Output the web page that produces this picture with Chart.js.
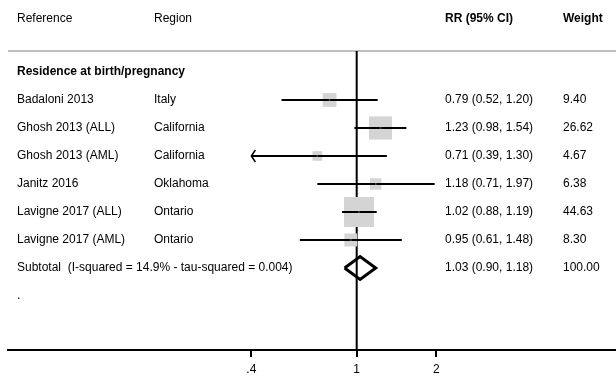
<!DOCTYPE html>
<html>
<head>
<meta charset="utf-8">
<script src="https://cdn.jsdelivr.net/npm/chart.js@4.4.1/dist/chart.umd.min.js"></script>
<style>
  body { margin: 0; background: #fff; }
</style>
</head>
<body>
<canvas id="forest" width="616" height="378"></canvas>
<script>
const studies = ["Badaloni 2013", "Ghosh 2013 (ALL)", "Ghosh 2013 (AML)", "Janitz 2016", "Lavigne 2017 (ALL)", "Lavigne 2017 (AML)"];
const regions = ["Italy", "California", "California", "Oklahoma", "Ontario", "Ontario"];
const rr = [0.79, 1.23, 0.71, 1.18, 1.02, 0.95];
const lower = [0.52, 0.98, 0.39, 0.71, 0.88, 0.61];
const upper = [1.20, 1.54, 1.30, 1.97, 1.19, 1.48];
const weights = [9.40, 26.62, 4.67, 6.38, 44.63, 8.30];
const pooled = [1.03, 0.90, 1.18]; // estimate, lower, upper
const pooledWeight = "100.00";
const subtotalLabel = "Subtotal  (I-squared = 14.9% - tau-squared = 0.004)";
const groupLabel = "Residence at birth/pregnancy";
const tickValues = [0.4, 1, 2];
const tickLabels = [".4", "1", "2"];

const xMin = 0.04816, xMax = 9.541;
const clipMin = tickValues[0];
const headerRow = -1.9, sepRow = -0.75, groupRow = 0, subRow = 7, dotRow = 8;
const yMin = -2.5, yMax = 9.93;
const font = '"Liberation Sans", Arial, Helvetica, sans-serif';

const fmt = v => v.toFixed(2);
const maxW = Math.max(...weights);
const boxSide = w => 30 * Math.sqrt(w / maxW);

let datasets = [];

// reference line at 1 and header separator
datasets.push({ data: [{x: 1, y: sepRow}, {x: 1, y: yMax}], showLine: true, borderColor: '#000', borderWidth: 2, pointRadius: 0, order: 6 });
datasets.push({ data: [{x: xMin, y: sepRow}, {x: xMax, y: sepRow}], showLine: true, borderColor: '#bebebe', borderWidth: 2, pointRadius: 0, order: 6 });

// weight boxes
datasets.push({
  data: rr.map((v, i) => ({x: v, y: i + 1})),
  pointStyle: 'rect',
  pointRadius: weights.map(w => boxSide(w) / Math.SQRT2),
  backgroundColor: '#d4d4d4',
  borderWidth: 0,
  order: 5
});

// confidence intervals
rr.forEach((v, i) => {
  datasets.push({
    data: [{x: Math.max(lower[i], clipMin), y: i + 1}, {x: upper[i], y: i + 1}],
    showLine: true, borderColor: '#000', borderWidth: 2, pointRadius: 0, order: 3
  });
});

// pooled diamond
const dh = 0.41;
datasets.push({
  data: [
    {x: pooled[1], y: subRow}, {x: pooled[0], y: subRow - dh},
    {x: pooled[2], y: subRow}, {x: pooled[0], y: subRow + dh},
    {x: pooled[1], y: subRow}
  ],
  showLine: true, borderColor: '#000', borderWidth: 3, borderJoinStyle: 'miter',
  pointRadius: 0, fill: false, order: 2
});

// point estimates
datasets.push({
  data: rr.map((v, i) => ({x: v, y: i + 1})),
  pointRadius: 1, backgroundColor: '#444', borderWidth: 0, order: 1
});

const textPlugin = {
  id: 'forestText',
  afterDraw(chart) {
    const ctx = chart.ctx;
    const ys = chart.scales.y;
    const xs = chart.scales.x;
    const colName = 17, colRegion = 154, colRR = 445, colW = 563;
    ctx.save();
    ctx.fillStyle = '#000';
    ctx.textBaseline = 'middle';
    ctx.textAlign = 'left';

    let y = ys.getPixelForValue(headerRow);
    ctx.font = '12px ' + font;
    ctx.fillText("Reference", colName, y);
    ctx.fillText("Region", colRegion, y);
    ctx.font = 'bold 12px ' + font;
    ctx.fillText("RR (95% CI)", colRR, y);
    ctx.fillText("Weight", colW, y);

    ctx.fillText(groupLabel, colName, ys.getPixelForValue(groupRow));

    ctx.font = '12px ' + font;
    studies.forEach((s, i) => {
      const py = ys.getPixelForValue(i + 1);
      ctx.fillText(s, colName, py);
      ctx.fillText(regions[i], colRegion, py);
      ctx.fillText(fmt(rr[i]) + " (" + fmt(lower[i]) + ", " + fmt(upper[i]) + ")", colRR, py);
      ctx.fillText(fmt(weights[i]), colW, py);
    });

    y = ys.getPixelForValue(subRow);
    ctx.fillText(subtotalLabel, colName, y);
    ctx.fillText(fmt(pooled[0]) + " (" + fmt(pooled[1]) + ", " + fmt(pooled[2]) + ")", colRR, y);
    ctx.fillText(pooledWeight, colW, y);
    ctx.fillText(".", colName, ys.getPixelForValue(dotRow));

    // arrows for clipped intervals
    ctx.strokeStyle = '#000';
    ctx.lineWidth = 1.5;
    lower.forEach((lo, i) => {
      if (lo < clipMin) {
        const px = xs.getPixelForValue(clipMin);
        const py = ys.getPixelForValue(i + 1);
        ctx.beginPath();
        ctx.moveTo(px + 4, py - 6);
        ctx.lineTo(px, py);
        ctx.lineTo(px + 4, py + 6);
        ctx.stroke();
      }
    });
    ctx.restore();
  }
};

new Chart(document.getElementById('forest'), {
  type: 'scatter',
  data: { datasets: datasets },
  options: {
    responsive: false,
    animation: false,
    layout: { autoPadding: false, padding: { top: 2, left: 8, right: 0, bottom: 0 } },
    plugins: { legend: { display: false }, tooltip: { enabled: false } },
    scales: {
      x: {
        type: 'logarithmic',
        min: xMin,
        max: xMax,
        afterBuildTicks: s => { s.ticks = tickValues.map(v => ({value: v})); },
        afterFit: s => { s.height = 28; },
        ticks: {
          autoSkip: false,
          maxRotation: 0,
          padding: 5,
          color: '#000',
          font: { family: font, size: 12 },
          callback: v => tickLabels[tickValues.indexOf(v)]
        },
        grid: { drawOnChartArea: false, drawTicks: true, tickLength: 7, color: '#000', lineWidth: 2 },
        border: { display: true, color: '#000', width: 2 }
      },
      y: {
        type: 'linear',
        reverse: true,
        min: yMin,
        max: yMax,
        display: false
      }
    }
  },
  plugins: [textPlugin]
});
</script>
</body>
</html>
